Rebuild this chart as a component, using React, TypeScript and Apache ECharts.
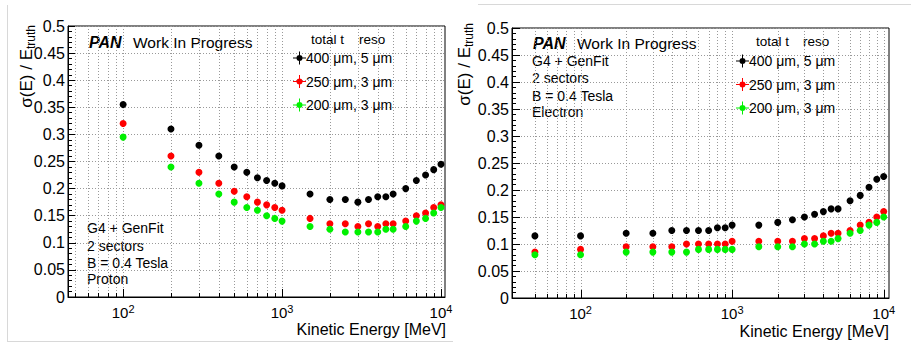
import { useEffect, useRef } from "react";
import * as echarts from "echarts";

const FONT = "'Liberation Sans', Arial, Helvetica, sans-serif";

const seriesNames = ["400 \u03bcm, 5 \u03bcm", "250 \u03bcm, 3 \u03bcm", "200 \u03bcm, 3 \u03bcm"];
const seriesColors = ["#000000", "#ff0000", "#00f000"];

const protonEnergy = [100, 200, 300, 400, 500, 600, 700, 800, 900, 1000, 1500, 2000, 2500, 3000, 3500, 4000, 4500, 5000, 6000, 7000, 8000, 9000, 10000];
const proton400 = [0.355, 0.31, 0.28, 0.26, 0.24, 0.23, 0.22, 0.215, 0.21, 0.205, 0.19, 0.18, 0.18, 0.175, 0.18, 0.185, 0.185, 0.19, 0.2, 0.215, 0.225, 0.235, 0.245];
const proton250 = [0.32, 0.26, 0.23, 0.21, 0.195, 0.185, 0.175, 0.17, 0.165, 0.16, 0.145, 0.135, 0.135, 0.13, 0.135, 0.13, 0.135, 0.135, 0.14, 0.15, 0.155, 0.165, 0.17];
const proton200 = [0.295, 0.24, 0.21, 0.19, 0.175, 0.165, 0.16, 0.15, 0.145, 0.14, 0.13, 0.125, 0.12, 0.12, 0.12, 0.12, 0.125, 0.125, 0.13, 0.14, 0.145, 0.155, 0.165];

const electronEnergy = [50, 100, 200, 300, 400, 500, 600, 700, 800, 900, 1000, 1500, 2000, 2500, 3000, 3500, 4000, 4500, 5000, 6000, 7000, 8000, 9000, 10000];
const electron400 = [0.115, 0.115, 0.12, 0.12, 0.125, 0.125, 0.125, 0.125, 0.13, 0.13, 0.135, 0.135, 0.14, 0.145, 0.15, 0.155, 0.16, 0.165, 0.165, 0.18, 0.19, 0.205, 0.22, 0.225];
const electron250 = [0.085, 0.09, 0.095, 0.095, 0.095, 0.1, 0.1, 0.1, 0.1, 0.1, 0.105, 0.105, 0.105, 0.105, 0.11, 0.11, 0.115, 0.12, 0.12, 0.125, 0.135, 0.14, 0.15, 0.16];
const electron200 = [0.08, 0.08, 0.085, 0.085, 0.085, 0.085, 0.09, 0.09, 0.09, 0.09, 0.09, 0.095, 0.095, 0.095, 0.1, 0.1, 0.105, 0.105, 0.11, 0.12, 0.125, 0.135, 0.14, 0.15];

// vertical grid / tick positions of the log x axis
const xGridTicks = [50, 60, 70, 80, 90, 100, 200, 300, 400, 500, 600, 700, 800, 900, 1000, 2000, 3000, 4000, 5000, 6000, 7000, 8000, 9000, 10000];
const xMajorTicks = [100, 1000, 10000];

const infoProton = ["G4 + GenFit", "2 sectors", "B = 0.4 Tesla", "Proton"];
const infoElectron = ["G4 + GenFit", "2 sectors", "B = 0.4 Tesla", "Electron"];

const LEGEND_ICON =
  "path://M0,6h13v1H0z M6,0h1v13H6z M6.5,3.5a3,3 0 1 1 0,6a3,3 0 1 1 0,-6z";

function pairs(xs: number[], ys: number[]) {
  return xs.map((x, i) => [x, ys[i]]);
}

function txt(text: string, x: number, y: number, fontSize: number, align = "left", extra: any = {}) {
  return {
    type: "text",
    x,
    y,
    silent: true,
    style: {
      text,
      fontSize,
      fontFamily: FONT,
      fill: "#000",
      align,
      textAlign: align,
      verticalAlign: "middle",
      textVerticalAlign: "middle",
      ...extra,
    },
  };
}

export default function App() {
  const ref = useRef<HTMLDivElement>(null);

  useEffect(() => {
    if (!ref.current) return;
    const chart = echarts.init(ref.current, undefined, { renderer: "svg" });

    const grids = [
      { left: 68, top: 26, width: 377, height: 271 },
      { left: 512, top: 28, width: 377, height: 270 },
    ];
    const xRanges = [
      [45, 10600],
      [35.3, 10840],
    ];

    const xAxes = grids.map((_, i) => ({
      type: "log",
      logBase: 10,
      gridIndex: i,
      min: xRanges[i][0],
      max: xRanges[i][1],
      axisLine: { show: true, lineStyle: { color: "#000", width: 1 } },
      axisTick: { show: false },
      splitLine: { show: false },
      axisLabel: {
        show: true,
        showMinLabel: false,
        showMaxLabel: false,
        margin: 6,
        color: "#000",
        fontFamily: FONT,
        formatter: (v: number) => {
          const l = Math.log10(v);
          const e = Math.round(l);
          if (Math.abs(l - e) > 1e-6) return "";
          return `{b|10}{s|${e}}`;
        },
        rich: {
          b: { fontSize: 15, lineHeight: 18, fontFamily: FONT, color: "#000" },
          s: { fontSize: 11, lineHeight: 10, verticalAlign: "top", fontFamily: FONT, color: "#000" },
        },
      },
    }));

    const yAxes = grids.map((_, i) => ({
      type: "value",
      gridIndex: i,
      min: 0,
      max: 0.5,
      interval: 0.05,
      axisLine: { show: true, lineStyle: { color: "#000", width: 1 } },
      axisTick: { show: true, inside: true, length: 8, lineStyle: { color: "#000" } },
      minorTick: { show: true, splitNumber: 5, length: 4, lineStyle: { color: "#000" } },
      splitLine: { show: true, lineStyle: { color: "#999", type: [1, 2], width: 1 } },
      axisLabel: { fontSize: 16, margin: 3, color: "#000", fontFamily: FONT },
    }));

    const gridSeries = grids.map((_, i) => ({
      type: "custom",
      xAxisIndex: i,
      yAxisIndex: i,
      silent: true,
      z: 1,
      data: xGridTicks.filter((v) => v > xRanges[i][0] && v < xRanges[i][1]).map((v) => [v, 0]),
      encode: { x: 0, y: 1 },
      renderItem: (params: any, api: any) => {
        const cs = params.coordSys;
        const v = api.value(0);
        const x = Math.round(api.coord([v, 0])[0]) + 0.5;
        const bottom = cs.y + cs.height;
        const major = xMajorTicks.indexOf(v) >= 0;
        return {
          type: "group",
          children: [
            {
              type: "line",
              shape: { x1: x, y1: cs.y, x2: x, y2: bottom },
              style: { stroke: "#999", lineWidth: 1, lineDash: [1, 2] },
            },
            {
              type: "line",
              shape: { x1: x, y1: bottom, x2: x, y2: bottom - (major ? 8 : 4) },
              style: { stroke: "#000", lineWidth: 1 },
            },
          ],
        };
      },
    }));

    const protonSets = [proton400, proton250, proton200];
    const electronSets = [electron400, electron250, electron200];

    const dataSeries: any[] = [];
    [
      { xs: protonEnergy, sets: protonSets, idx: 0 },
      { xs: electronEnergy, sets: electronSets, idx: 1 },
    ].forEach(({ xs, sets, idx }) => {
      sets.forEach((ys, k) => {
        dataSeries.push({
          type: "scatter",
          name: seriesNames[k],
          xAxisIndex: idx,
          yAxisIndex: idx,
          symbol: "circle",
          symbolSize: 7,
          z: 3,
          itemStyle: { color: seriesColors[k], opacity: 1 },
          emphasis: { disabled: true },
          data: pairs(xs, ys),
        });
      });
    });

    const legendBase = {
      orient: "vertical",
      padding: 0,
      itemWidth: 13,
      itemHeight: 13,
      itemGap: 9.5,
      icon: LEGEND_ICON,
      selectedMode: false,
      data: seriesNames,
      textStyle: { fontSize: 14, lineHeight: 13, color: "#000", fontFamily: FONT, padding: [0, 0, 0, -5] },
    };

    const yTitle = (x: number, y: number) => ({
      type: "text",
      x,
      y,
      rotation: Math.PI / 2,
      silent: true,
      style: {
        text: "{m|\u03c3(E) / E}{s|truth}",
        fontFamily: FONT,
        fill: "#000",
        align: "right",
        textAlign: "right",
        verticalAlign: "middle",
        textVerticalAlign: "middle",
        rich: {
          m: { fontSize: 17, lineHeight: 22, fontFamily: FONT, fill: "#000" },
          s: { fontSize: 12, lineHeight: 12, verticalAlign: "bottom", fontFamily: FONT, fill: "#000" },
        },
      },
    });

    const panTitle = (x: number, y: number) => [
      txt("PAN", x, y, 16, "left", { fontWeight: "bold", fontStyle: "italic" }),
      txt("Work In Progress", x + 44, y, 15.5),
    ];

    const graphics: any[] = [
      // screenshot frame lines
      { type: "line", silent: true, shape: { x1: 7.5, y1: 5, x2: 7.5, y2: 341 }, style: { stroke: "#d8d8d8", lineWidth: 1 } },
      { type: "line", silent: true, shape: { x1: 7, y1: 341.5, x2: 453, y2: 341.5 }, style: { stroke: "#d8d8d8", lineWidth: 1 } },
      { type: "line", silent: true, shape: { x1: 478, y1: 4.5, x2: 911, y2: 4.5 }, style: { stroke: "#d8d8d8", lineWidth: 1 } },
      ...panTitle(89, 42),
      ...panTitle(533, 43),
      txt("total t", 311, 39, 13.5),
      txt("reso", 359, 39, 13.5),
      txt("total t", 756, 41, 13.5),
      txt("reso", 803, 41, 13.5),
      txt("Kinetic Energy [MeV]", 446, 329, 16, "right"),
      txt("Kinetic Energy [MeV]", 889, 331, 16, "right"),
      yTitle(26, 25),
      yTitle(464, 23),
    ];
    const leftInfoY = [228, 246, 263, 279];
    infoProton.forEach((t, i) => graphics.push(txt(t, 87, leftInfoY[i], 14)));
    const rightInfoY = [61, 78, 96, 112];
    infoElectron.forEach((t, i) => graphics.push(txt(t, 532, rightInfoY[i], 14)));

    chart.setOption({
      animation: false,
      backgroundColor: "#ffffff",
      textStyle: { fontFamily: FONT },
      grid: grids.map((g) => ({ ...g, show: true, borderColor: "#000", borderWidth: 1, backgroundColor: "transparent" })),
      xAxis: xAxes,
      yAxis: yAxes,
      legend: [
        { ...legendBase, left: 293, top: 51 },
        { ...legendBase, left: 736, top: 54 },
      ],
      graphic: graphics,
      series: [...gridSeries, ...dataSeries],
    });

    return () => chart.dispose();
  }, []);

  return <div ref={ref} style={{ position: "absolute", left: 0, top: 0, width: 911, height: 344 }} />;
}
